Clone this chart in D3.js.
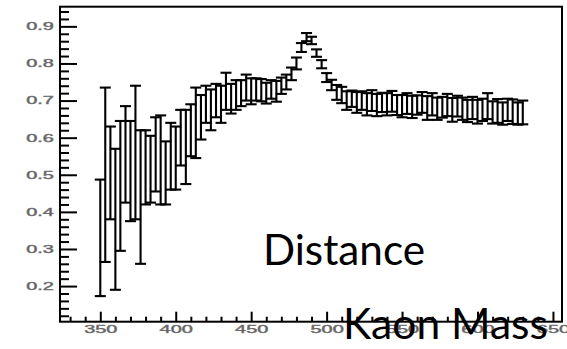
<!DOCTYPE html>
<html>
<head>
<meta charset="utf-8">
<script src="https://cdn.jsdelivr.net/npm/d3@7"></script>
<style>
  body { margin: 0; background: #fff; }
  svg { display: block; }
</style>
</head>
<body>
<div id="chart"></div>
<script>
// bin centres (Kaon mass)
const massBins = [350, 353.3, 356.7, 360, 363.3, 366.7, 370, 373.3, 376.7, 380,
	383.3, 386.7, 390, 393.3, 396.7, 400, 403.3, 406.7, 410, 413.3,
	416.7, 420, 423.3, 426.7, 430, 433.3, 436.7, 440, 443.3, 446.7,
	450, 453.3, 456.7, 460, 463.3, 466.7, 470, 473.3, 476.7, 480,
	483.3, 486.7, 490, 493.3, 496.7, 500, 503.3, 506.7, 510, 513.3,
	516.7, 520, 523.3, 526.7, 530, 533.3, 536.7, 540, 543.3, 546.7,
	550, 553.3, 556.7, 560, 563.3, 566.7, 570, 573.3, 576.7, 580,
	583.3, 586.7, 590, 593.3, 596.7, 600, 603.3, 606.7, 610, 613.3,
	616.7, 620, 623.3, 626.7, 630];

// mean distance per bin
const distMean = [0.33, 0.50, 0.505, 0.38, 0.47, 0.555, 0.51, 0.56, 0.44, 0.52,
	0.515, 0.555, 0.54, 0.505, 0.55, 0.545, 0.60, 0.575, 0.62, 0.64,
	0.655, 0.69, 0.675, 0.70, 0.69, 0.725, 0.705, 0.715, 0.72, 0.735,
	0.725, 0.73, 0.728, 0.72, 0.73, 0.725, 0.74, 0.75, 0.772, 0.80,
	0.843, 0.871, 0.862, 0.828, 0.798, 0.762, 0.742, 0.722, 0.715, 0.70,
	0.705, 0.695, 0.70, 0.69, 0.70, 0.688, 0.695, 0.69, 0.698, 0.688,
	0.685, 0.692, 0.683, 0.688, 0.695, 0.68, 0.69, 0.678, 0.682, 0.688,
	0.675, 0.685, 0.678, 0.672, 0.68, 0.67, 0.675, 0.685, 0.668, 0.672,
	0.665, 0.675, 0.67, 0.665, 0.668];

// error on the mean
const distErr = [0.157, 0.235, 0.125, 0.19, 0.175, 0.13, 0.135, 0.18, 0.18, 0.10,
	0.09, 0.10, 0.12, 0.085, 0.09, 0.085, 0.075, 0.10, 0.07, 0.095,
	0.06, 0.05, 0.055, 0.045, 0.05, 0.05, 0.04, 0.04, 0.035, 0.035,
	0.035, 0.03, 0.03, 0.028, 0.025, 0.028, 0.022, 0.02, 0.017, 0.016,
	0.012, 0.011, 0.01, 0.01, 0.011, 0.012, 0.014, 0.02, 0.022, 0.025,
	0.022, 0.028, 0.025, 0.03, 0.028, 0.03, 0.026, 0.03, 0.028, 0.027,
	0.03, 0.028, 0.03, 0.026, 0.028, 0.032, 0.03, 0.03, 0.028, 0.03,
	0.032, 0.028, 0.03, 0.03, 0.03, 0.032, 0.03, 0.035, 0.03, 0.032,
	0.03, 0.03, 0.033, 0.03, 0.032];

const xTicks = [350, 400, 450, 500, 550, 600, 650];
const yTicks = [0.2, 0.3, 0.4, 0.5, 0.6, 0.7, 0.8, 0.9];

const data = massBins.map((m, i) => ({ m: m, c: distMean[i], e: distErr[i] }));

const width = 567;
const height = 349;
const frame = { left: 60, right: 562, top: 6.7, bottom: 321.7 };

const svg = d3.select("#chart")
	.append("svg")
	.attr("width", width)
	.attr("height", height);

svg.append("rect")
	.attr("width", width)
	.attr("height", height)
	.attr("fill", "#fff");

const x = d3.scaleLinear()
	.domain([323.3, 656])
	.range([frame.left, frame.right]);

const y = d3.scaleLinear()
	.domain([0.104, 0.953])
	.range([frame.bottom, frame.top]);

// axes (ticks pointing inward, ROOT style)
const labelScale = 1.9;

function styleAxis(g) {
	g.select(".domain").remove();
	g.selectAll("line").attr("stroke", "#000").attr("stroke-width", 2);
	g.selectAll("text")
		.attr("fill", "#555")
		.attr("stroke", "#777")
		.attr("stroke-width", 0.45)
		.style("font-family", "'Liberation Sans', Arial, sans-serif")
		.style("font-size", "10.5px")
		.attr("transform", `scale(${labelScale},1)`);
}

svg.append("g")
	.attr("transform", `translate(0,${frame.bottom})`)
	.call(d3.axisBottom(x)
		.tickValues(d3.range(330, 656, 10).filter(v => v % 50 !== 0))
		.tickSize(-5)
		.tickFormat(""))
	.call(styleAxis);

svg.append("g")
	.attr("transform", `translate(0,${frame.bottom})`)
	.call(d3.axisBottom(x)
		.tickValues(xTicks)
		.tickSize(-10)
		.tickPadding(4)
		.tickFormat(d3.format("d")))
	.call(styleAxis);

svg.append("g")
	.attr("transform", `translate(${frame.left},0)`)
	.call(d3.axisLeft(y)
		.tickValues(d3.range(12, 95, 2).map(v => v / 100).filter(v => Math.round(v * 100) % 10 !== 0))
		.tickSize(-9)
		.tickFormat(""))
	.call(styleAxis);

svg.append("g")
	.attr("transform", `translate(${frame.left},0)`)
	.call(d3.axisLeft(y)
		.tickValues(yTicks)
		.tickSize(-17)
		.tickPadding(3.2)
		.tickFormat(d3.format(".1f")))
	.call(styleAxis);

// frame
svg.append("rect")
	.attr("x", frame.left)
	.attr("y", frame.top)
	.attr("width", frame.right - frame.left)
	.attr("height", frame.bottom - frame.top)
	.attr("fill", "none")
	.attr("stroke", "#000")
	.attr("stroke-width", 2);

// error bars
const capW = 5.5;
const bars = svg.append("g")
	.attr("stroke", "#000")
	.attr("stroke-width", 2.1);

bars.selectAll(".stem")
	.data(data)
	.join("line")
	.attr("class", "stem")
	.attr("x1", d => x(d.m))
	.attr("x2", d => x(d.m))
	.attr("y1", d => y(d.c - d.e))
	.attr("y2", d => y(d.c + d.e));

bars.selectAll(".capTop")
	.data(data)
	.join("line")
	.attr("class", "capTop")
	.attr("x1", d => x(d.m) - capW)
	.attr("x2", d => x(d.m) + capW)
	.attr("y1", d => y(d.c + d.e))
	.attr("y2", d => y(d.c + d.e));

bars.selectAll(".capBottom")
	.data(data)
	.join("line")
	.attr("class", "capBottom")
	.attr("x1", d => x(d.m) - capW)
	.attr("x2", d => x(d.m) + capW)
	.attr("y1", d => y(d.c - d.e))
	.attr("y2", d => y(d.c - d.e));

// slide annotations
const noteFont = "Lato, 'Open Sans', sans-serif";

svg.append("text")
	.attr("x", 263)
	.attr("y", 265)
	.attr("textLength", 162)
	.attr("lengthAdjust", "spacingAndGlyphs")
	.style("font-family", noteFont)
	.style("font-size", "42px")
	.attr("fill", "#000")
	.text("Distance");

svg.append("text")
	.attr("x", 343)
	.attr("y", 339)
	.attr("textLength", 205)
	.attr("lengthAdjust", "spacingAndGlyphs")
	.style("font-family", noteFont)
	.style("font-size", "42px")
	.attr("fill", "#000")
	.text("Kaon Mass");
</script>
</body>
</html>
